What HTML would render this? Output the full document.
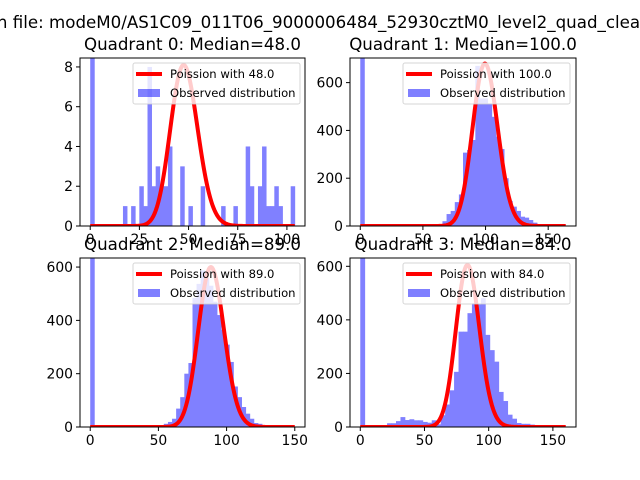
<!DOCTYPE html>
<html><head><meta charset="utf-8"><style>
html,body{margin:0;padding:0;background:#fff}
svg{display:block;font-family:"DejaVu Sans","Liberation Sans",sans-serif}
</style></head><body>
<svg id="fig" width="640" height="480" viewBox="0 0 640 480" xmlns="http://www.w3.org/2000/svg">
<rect width="640" height="480" fill="#fff"/>
<text x="-8" y="28" font-size="16.67" fill="#000">In file: modeM0/AS1C09_011T06_9000006484_52930cztM0_level2_quad_clean.evt</text>
</svg>
<script>
// ---- data ----
const q0Counts = [200,0,0,0,0,0,0,0,1,0,1,0,2,1,8,2,3,2,2,4,0,0,3,0,1,0,0,2,0,0,0,0,1,0,0,1,0,0,4,2,0,2,4,1,1,2,1,0,0,2];
const q1Counts = [2000,0,0,0,0,0,0,0,0,0,0,0,0,0,0,0,0,2,4,8,20,50,63,100,132,307,318,360,670,534,534,513,457,374,322,200,105,81,63,39,35,25,14,5,0,0,0,0,0,0];
const q2Counts = [2000,0,0,0,0,0,0,0,0,0,0,0,0,0,0,0,2,5,12,19,31,69,112,200,240,484,537,587,560,530,470,420,365,309,244,152,112,75,50,31,15,12,5,0,0,0,0,0,0,0];
const q3Counts = [2000,0,0,0,0,0,14,14,22,37,26,29,25,25,19,16,25,10,44,84,137,206,356,356,425,462,458,481,344,287,244,131,97,46,31,15,12,12,9,0,0,0,0,0,0,0];
const medians = [48.0, 100.0, 89.0, 84.0];
const peaks = [8.1, 680, 600, 605];
const xMaxes = [104, 164, 150, 160];
const yTicks0 = [0,2,4,6,8];
const yTicks1 = [0,200,400,600];
const xTicks0 = [0,25,50,75,100];
const xTicks1 = [0,50,100,150];

// ---- layout ----
const panels = [
  {counts:q0Counts, x0:80, x1:305, y0:58, y1:226, xmin:-5.2, xmax:109.2, ymax:8.45, xt:xTicks0, yt:yTicks0},
  {counts:q1Counts, x0:350, x1:576, y0:58, y1:226, xmin:-8.2, xmax:172.2, ymax:703, xt:xTicks1, yt:yTicks1},
  {counts:q2Counts, x0:80, x1:305, y0:258, y1:427, xmin:-7.5, xmax:157.5, ymax:634, xt:xTicks1, yt:yTicks1},
  {counts:q3Counts, x0:350, x1:576, y0:258, y1:427, xmin:-8, xmax:168, ymax:631, xt:xTicks1, yt:yTicks1}
];
const NS = "http://www.w3.org/2000/svg";
const fig = document.getElementById('fig');
function mk(tag, attrs, parent){const e=document.createElementNS(NS,tag);for(const k in attrs)e.setAttribute(k,attrs[k]);(parent||fig).appendChild(e);return e;}
function lgamma(z){
  const g=7,c=[0.99999999999980993,676.5203681218851,-1259.1392167224028,771.32342877765313,-176.61502916214059,12.507343278686905,-0.13857109526572012,9.9843695780195716e-6,1.5056327351493116e-7];
  if(z<0.5) return Math.log(Math.PI/Math.sin(Math.PI*z))-lgamma(1-z);
  z-=1;let x=c[0];for(let i=1;i<g+2;i++)x+=c[i]/(z+i);const t=z+g+0.5;
  return 0.5*Math.log(2*Math.PI)+(z+0.5)*Math.log(t)-t+Math.log(x);
}
panels.forEach((p,pi)=>{
  const g = mk('g',{});
  
  
  const sx = v => p.x0 + (v-p.xmin)/(p.xmax-p.xmin)*(p.x1-p.x0);
  const sy = v => p.y1 - v/p.ymax*(p.y1-p.y0);
  const clipId='clip'+pi;
  const cp=mk('clipPath',{id:clipId},g);
  mk('rect',{x:p.x0,y:p.y0,width:p.x1-p.x0,height:p.y1-p.y0},cp);
  const plot=mk('g',{'clip-path':'url(#'+clipId+')'},g);
  const n=p.counts.length, bw=xMaxes[pi]/n;
  p.counts.forEach((c,i)=>{
    if(c<=0) return;
    const r=mk('rect',{x:sx(i*bw),y:sy(c),width:sx((i+1)*bw)-sx(i*bw)+0.4,height:sy(0)-sy(c),fill:'#8080ff'},plot);
    
    
  });
  const mu=medians[pi]; let pts=[], vals=[], mx=0;
  for(let k=0;k<=300;k++){const x=xMaxes[pi]*k/300;const v=Math.exp(x*Math.log(mu)-mu-lgamma(x+1));vals.push([x,v]);if(v>mx)mx=v;}
  vals.forEach(([x,v])=>pts.push(sx(x).toFixed(2)+','+sy(v/mx*peaks[pi]).toFixed(2)));
  const pl=mk('polyline',{points:pts.join(' '),fill:'none',stroke:'#ff0000','stroke-width':4,'stroke-linejoin':'round'},plot);
  
  
  const fr=mk('rect',{x:p.x0,y:p.y0,width:p.x1-p.x0,height:p.y1-p.y0,fill:'none',stroke:'#000','stroke-width':1},g);
  
  
  p.xt.forEach(t=>{const x=sx(t);mk('line',{x1:x,x2:x,y1:p.y1,y2:p.y1+4,stroke:'#000'},g);
    const tx=mk('text',{x:x,y:p.y1+18,'font-size':13.9,'text-anchor':'middle'},g);tx.textContent=t;
    
    });
  p.yt.forEach(t=>{const y=sy(t);mk('line',{x1:p.x0-4,x2:p.x0,y1:y,y2:y,stroke:'#000'},g);
    const tx=mk('text',{x:p.x0-7,y:y+5,'font-size':13.9,'text-anchor':'end'},g);tx.textContent=t;
    
    });
  const lg=mk('g',{},g);
  
  
  const lx=p.x0+53, ly=p.y0+5;
  mk('rect',{x:lx,y:ly,width:167,height:41,rx:2,fill:'#fff','fill-opacity':0.8,stroke:'#cccccc','stroke-opacity':0.8},lg);
  mk('line',{x1:lx+3,x2:lx+29,y1:ly+11,y2:ly+11,stroke:'#ff0000','stroke-width':4},lg);
  const t1=mk('text',{x:lx+37,y:ly+15,'font-size':11.6},lg);t1.textContent='Poission with '+medians[pi].toFixed(1);
  
  
  mk('rect',{x:lx+5,y:ly+26,width:22,height:8,fill:'#0000ff','fill-opacity':0.5},lg);
  const t2=mk('text',{x:lx+37,y:ly+34,'font-size':11.6},lg);t2.textContent='Observed distribution';
  
  
  const tt=mk('text',{x:(p.x0+p.x1)/2,y:p.y0-8,'font-size':16.67,'text-anchor':'middle'},g);
  tt.textContent='Quadrant '+pi+': Median='+medians[pi].toFixed(1);
  
  
});
</script>
</body></html>
